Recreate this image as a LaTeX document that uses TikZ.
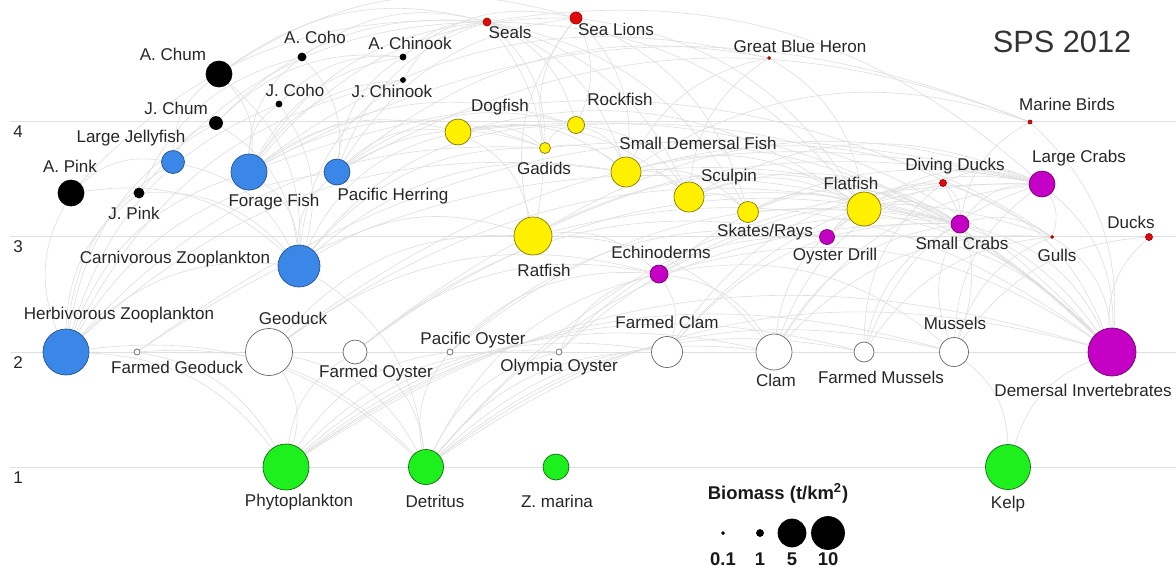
\documentclass[tikz,border=0pt]{standalone}
\usepackage{fontspec}
\setmainfont{Liberation Sans}
\usetikzlibrary{backgrounds,calc}

\definecolor{sblue}{RGB}{58,135,232}
\definecolor{syellow}{RGB}{255,240,0}
\definecolor{sgreen}{RGB}{30,240,30}
\definecolor{spurple}{RGB}{196,0,196}
\definecolor{sred}{RGB}{225,10,10}
\definecolor{linkgray}{RGB}{222,222,222}

\begin{document}
\begin{tikzpicture}[x=0.02cm, y=-0.02cm,
    sp/.style={circle, inner sep=0pt, minimum size=#1*0.4mm, line width=0.4pt},
    zoo/.style={sp=#1, fill=sblue, draw=sblue!60!black},
    fish/.style={sp=#1, fill=syellow, draw=syellow!50!black},
    salmon/.style={sp=#1, fill=black, draw=black},
    mammal/.style={sp=#1, fill=sred, draw=sred!70!black},
    invert/.style={sp=#1, fill=spurple, draw=spurple!60!black},
    bivalve/.style={sp=#1, fill=white, draw=black!60},
    plant/.style={sp=#1, fill=sgreen, draw=sgreen!45!black},
    lbl/.style={font=\fontsize{9.7}{11}\selectfont, text=black!85, inner sep=0pt},
    legtxt/.style={font=\bfseries\fontsize{10.5}{12}\selectfont, text=black!90, inner sep=0pt},
    link/.style={draw=linkgray, line width=0.35pt},
    level/.style={draw=black!12, line width=0.5pt}]
\useasboundingbox (0,0) rectangle (1176,569);

% title
\node[font=\fontsize{17.5}{20}\selectfont, text=black!80] (title) at (1062,42) {SPS 2012};

% level 4 and above
\node[salmon=13] (achum) at (219,74) {};
\node[salmon=4] (acoho) at (302,57) {};
\node[salmon=3] (achin) at (403,57) {};
\node[salmon=3] (jcoho) at (279,104) {};
\node[salmon=2.5] (jchin) at (403,80) {};
\node[salmon=6.5] (jchum) at (216,123) {};
\node[salmon=13] (apink) at (71,193) {};
\node[salmon=5] (jpink) at (139,193) {};
\node[mammal=4] (seals) at (487,22) {};
\node[mammal=6] (slions) at (576,18) {};
\node[mammal=1.5] (heron) at (769,58) {};
\node[mammal=2] (mbirds) at (1030,122) {};
\node[zoo=11.5] (ljelly) at (173,162) {};
\node[zoo=18] (forage) at (249,172) {};
\node[zoo=13] (herring) at (337,172) {};
\node[zoo=21] (czoo) at (299,266) {};
\node[fish=13] (dogfish) at (458,132) {};
\node[fish=8.5] (rockfish) at (576,125) {};
\node[fish=5.5] (gadids) at (545,148) {};
\node[fish=15] (smdem) at (626,172) {};
\node[fish=15] (sculpin) at (689,197) {};
\node[fish=10.5] (skates) at (748,212) {};
\node[fish=17] (flatfish) at (864,209) {};
\node[fish=19] (ratfish) at (533,236) {};
\node[invert=9] (echino) at (659,274) {};
\node[invert=7.5] (odrill) at (827,237) {};
\node[mammal=3.5] (dducks) at (943,183) {};
\node[invert=13] (lcrabs) at (1042,184) {};
\node[invert=9] (scrabs) at (960,224) {};
\node[mammal=1.5] (gulls) at (1052,237) {};
\node[mammal=3.5] (ducks) at (1149,237) {};

% level 2
\node[zoo=23] (hzoo) at (66,352) {};
\node[bivalve=3] (fgeo) at (137,352) {};
\node[bivalve=23.5] (geoduck) at (269,352) {};
\node[bivalve=12] (foyster) at (355,352) {};
\node[bivalve=3] (poyster) at (450,352) {};
\node[bivalve=3] (olympia) at (559,352) {};
\node[bivalve=15.5] (fclam) at (667,352) {};
\node[bivalve=18] (clam) at (774,352) {};
\node[bivalve=10] (fmussels) at (864,352) {};
\node[bivalve=14.5] (mussels) at (954,352) {};
\node[invert=24] (dinv) at (1112,352) {};

% level 1
\node[plant=23] (phyto) at (286,467) {};
\node[plant=17.5] (detritus) at (426,467) {};
\node[plant=13] (zmarina) at (556,467) {};
\node[plant=22.5] (kelp) at (1008,467) {};

% labels
\node[lbl] (achumL) at (173,54) {A. Chum};
\node[lbl] (acohoL) at (315,37) {A. Coho};
\node[lbl] (achinL) at (410,43) {A. Chinook};
\node[lbl] (jcohoL) at (295,90) {J. Coho};
\node[lbl] (jchinL) at (392,91) {J. Chinook};
\node[lbl] (jchumL) at (176,108) {J. Chum};
\node[lbl] (apinkL) at (70,166) {A. Pink};
\node[lbl] (jpinkL) at (134,213) {J. Pink};
\node[lbl] (sealsL) at (510,32) {Seals};
\node[lbl] (slionsL) at (616,29) {Sea Lions};
\node[lbl] (heronL) at (800,46) {Great Blue Heron};
\node[lbl] (mbirdsL) at (1067,104) {Marine Birds};
\node[lbl] (ljellyL) at (131,138) {Large Jellyfish};
\node[lbl] (forageL) at (274,202) {Forage Fish};
\node[lbl] (herringL) at (393,196) {Pacific Herring};
\node[lbl] (czooL) at (175,259) {Carnivorous Zooplankton};
\node[lbl] (dogfishL) at (500,107) {Dogfish};
\node[lbl] (rockfishL) at (620,99) {Rockfish};
\node[lbl] (gadidsL) at (544,168) {Gadids};
\node[lbl] (smdemL) at (698,143) {Small Demersal Fish};
\node[lbl] (sculpinL) at (729,177) {Sculpin};
\node[lbl] (skatesL) at (765,232) {Skates/Rays};
\node[lbl] (flatfishL) at (851,183) {Flatfish};
\node[lbl] (ratfishL) at (544,270) {Ratfish};
\node[lbl] (echinoL) at (661,252) {Echinoderms};
\node[lbl] (odrillL) at (835,256) {Oyster Drill};
\node[lbl] (dducksL) at (955,166) {Diving Ducks};
\node[lbl] (lcrabsL) at (1079,158) {Large Crabs};
\node[lbl] (scrabsL) at (962,243) {Small Crabs};
\node[lbl] (gullsL) at (1057,255) {Gulls};
\node[lbl] (ducksL) at (1131,222) {Ducks};
\node[lbl] (hzooL) at (119,315) {Herbivorous Zooplankton};
\node[lbl] (fgeoL) at (177,367) {Farmed Geoduck};
\node[lbl] (geoduckL) at (293,318) {Geoduck};
\node[lbl] (foysterL) at (376,373) {Farmed Oyster};
\node[lbl] (poysterL) at (473,340) {Pacific Oyster};
\node[lbl] (olympiaL) at (559,367) {Olympia Oyster};
\node[lbl] (fclamL) at (667,322) {Farmed Clam};
\node[lbl] (clamL) at (776,380) {Clam};
\node[lbl] (fmusselsL) at (881,377) {Farmed Mussels};
\node[lbl] (musselsL) at (955,323) {Mussels};
\node[lbl] (dinvL) at (1083,390) {Demersal Invertebrates};
\node[lbl] (phytoL) at (299,502) {Phytoplankton};
\node[lbl] (detritusL) at (435,501) {Detritus};
\node[lbl] (zmarinaL) at (557,501) {Z. marina};
\node[lbl] (kelpL) at (1008,504) {Kelp};

% legend
\node[legtxt] (legT) at (778,493) {Biomass (t/km\textsuperscript{2})};
\node[salmon=1.5] (legA) at (723,533) {};
\node[salmon=3.5] (legB) at (760,533) {};
\node[salmon=14] (legC) at (792,533) {};
\node[salmon=16.5] (legD) at (828,533) {};
\node[legtxt] (legAL) at (723,559) {0.1};
\node[legtxt] (legBL) at (760,559) {1};
\node[legtxt] (legCL) at (792,559) {5};
\node[legtxt] (legDL) at (828,559) {10};

\begin{scope}[on background layer]
  % trophic levels
  \foreach \y/\n in {121/4, 236/3, 352/2, 467/1} {
    \draw[level] (10,\y) -- (1176,\y);
    \node[lbl] (lev\n) at (18,\y+11) {\n};
  }
  % feeding links, prey/predator
  \foreach \a/\b in {phyto/hzoo, phyto/geoduck, phyto/fgeo, phyto/foyster, phyto/poyster,
      phyto/olympia, phyto/fclam, phyto/clam, phyto/fmussels, phyto/mussels, phyto/dinv,
      detritus/hzoo, detritus/geoduck, detritus/fgeo, detritus/foyster, detritus/poyster,
      detritus/olympia, detritus/fclam, detritus/clam, detritus/fmussels, detritus/mussels,
      detritus/dinv, detritus/echino, detritus/scrabs, detritus/lcrabs, detritus/czoo,
      kelp/mussels, kelp/dinv,
      hzoo/czoo, hzoo/ljelly, hzoo/forage, hzoo/herring, hzoo/apink, hzoo/jpink, hzoo/jchum,
      hzoo/jcoho, hzoo/jchin, hzoo/smdem, hzoo/gadids,
      czoo/forage, czoo/herring, czoo/ljelly, czoo/apink, czoo/jpink, czoo/achum, czoo/jchum,
      czoo/jcoho, czoo/jchin, czoo/gadids, czoo/rockfish, czoo/smdem, czoo/dogfish, czoo/ratfish,
      ljelly/achum, ljelly/jchum, ljelly/apink,
      forage/acoho, forage/achin, forage/jcoho, forage/jchin, forage/dogfish, forage/seals,
      forage/slions, forage/heron, forage/mbirds, forage/gadids, forage/rockfish, forage/gulls,
      forage/achum,
      herring/acoho, herring/achin, herring/dogfish, herring/seals, herring/slions,
      herring/mbirds, herring/heron, herring/rockfish, herring/gadids,
      jpink/acoho, jpink/seals, jchum/seals, jchum/achin, jcoho/achin, jchin/seals,
      apink/seals, achum/seals, achum/slions, acoho/seals, achin/seals, achin/slions,
      gadids/dogfish, gadids/seals, gadids/slions, gadids/rockfish,
      rockfish/seals, rockfish/slions,
      smdem/dogfish, smdem/rockfish, smdem/seals, smdem/slions, smdem/heron, smdem/mbirds,
      smdem/flatfish, smdem/sculpin, smdem/skates, smdem/gadids, smdem/gulls,
      sculpin/seals, sculpin/heron, sculpin/dogfish, sculpin/skates, sculpin/rockfish,
      skates/seals, skates/slions,
      flatfish/seals, flatfish/slions, flatfish/dogfish, flatfish/heron, flatfish/skates,
      flatfish/sculpin,
      ratfish/dogfish, ratfish/seals, ratfish/slions,
      echino/lcrabs, echino/ratfish, echino/gulls,
      odrill/lcrabs, odrill/dducks,
      lcrabs/seals, lcrabs/sculpin, lcrabs/flatfish, lcrabs/gulls, lcrabs/dducks, lcrabs/ratfish,
      scrabs/lcrabs, scrabs/sculpin, scrabs/flatfish, scrabs/dducks, scrabs/gulls,
      scrabs/skates, scrabs/ratfish, scrabs/mbirds,
      dinv/smdem, dinv/sculpin, dinv/skates, dinv/flatfish, dinv/ratfish, dinv/echino,
      dinv/lcrabs, dinv/scrabs, dinv/dducks, dinv/ducks, dinv/gulls, dinv/mbirds, dinv/odrill,
      dinv/gadids, dinv/rockfish, dinv/dogfish,
      mussels/lcrabs, mussels/scrabs, mussels/echino, mussels/dducks, mussels/ducks,
      mussels/gulls,
      fmussels/scrabs, fmussels/lcrabs, fmussels/dducks, fmussels/gulls,
      clam/lcrabs, clam/scrabs, clam/echino, clam/dducks, clam/ratfish, clam/flatfish,
      clam/gulls,
      fclam/lcrabs, fclam/scrabs, fclam/echino, fclam/dducks,
      geoduck/lcrabs, geoduck/scrabs, geoduck/echino, geoduck/ratfish,
      fgeo/scrabs, fgeo/lcrabs,
      foyster/odrill, foyster/scrabs, foyster/lcrabs, foyster/echino,
      poyster/odrill, poyster/scrabs, poyster/echino,
      olympia/odrill, olympia/scrabs, olympia/echino}
    \draw[link] let \p1=(\a), \p2=(\b), \n1={ifthenelse(\x2>\x1,25,-25)}
      in (\a) to[bend left=\n1] (\b);
\end{scope}
\end{tikzpicture}
\end{document}
